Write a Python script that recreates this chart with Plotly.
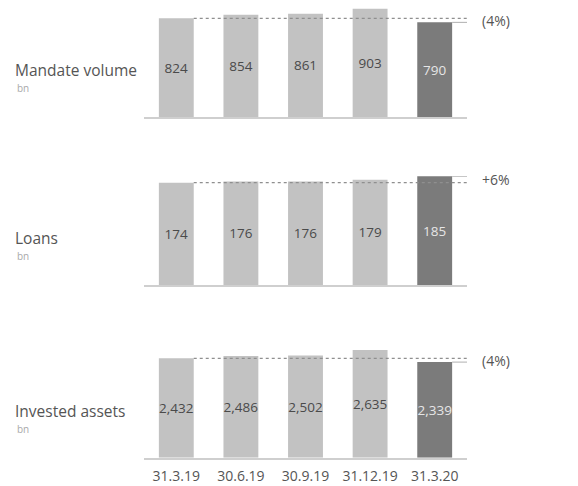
import plotly.graph_objects as go

dates = ["31.3.19", "30.6.19", "30.9.19", "31.12.19", "31.3.20"]
mandate_volume = [824, 854, 861, 903, 790]
loans = [174, 176, 176, 179, 185]
invested_assets = [2432, 2486, 2502, 2635, 2339]
panel_titles = ["Mandate volume", "Loans", "Invested assets"]
panel_units = ["bn", "bn", "bn"]
changes = ["(4%)", "+6%", "(4%)"]

series = [mandate_volume, loans, invested_assets]

OFF = 8  # page body margin
W, H = 578, 486
baselines_px = [117, 285, 457.7]
first_bar_px = [98.7, 102.3, 99.4]  # pixel height of the first bar
PANEL_H = 109


def py(px):
    return min(1.0, (H - (px - OFF)) / H)


def pxx(px):
    return (px - OFF) / W


domains = [(py(b), py(b - PANEL_H)) for b in baselines_px]
ranges = [s[0] * PANEL_H / h for s, h in zip(series, first_bar_px)]
xdom = [pxx(144), pxx(467)]

LIGHT = "#c2c2c2"
DARK = "#7b7b7b"
FONT = "Open Sans"
BW = 0.54

fig = go.Figure()
for i, vals in enumerate(series):
    n = i + 1
    xa = "x" if n == 1 else f"x{n}"
    ya = "y" if n == 1 else f"y{n}"
    colors = [LIGHT] * (len(vals) - 1) + [DARK]
    tcolors = ["#4a4a4a"] * (len(vals) - 1) + ["#e6e6e6"]
    fig.add_trace(go.Bar(
        x=dates, y=vals, xaxis=xa, yaxis=ya,
        marker=dict(color=colors, line=dict(width=0)),
        width=BW,
        text=[f"{v:,}" for v in vals],
        textposition="inside", insidetextanchor="middle",
        constraintext="none",
        textfont=dict(family=FONT, size=13.5, color=tcolors),
        textangle=0, showlegend=False, hoverinfo="skip", cliponaxis=False,
    ))
    xkey = "xaxis" if n == 1 else f"xaxis{n}"
    ykey = "yaxis" if n == 1 else f"yaxis{n}"
    fig.update_layout(**{
        xkey: dict(domain=xdom, anchor=ya, range=[-0.5, 4.5],
                   showline=True, linecolor="#cfcfcf", linewidth=2,
                   showgrid=False, zeroline=False, ticks="",
                   showticklabels=(n == 3), ticklabelstandoff=4,
                   tickfont=dict(family=FONT, size=14, color="#555555")),
        ykey: dict(domain=list(domains[i]), anchor=xa, range=[0, ranges[i]],
                   visible=False, showgrid=False, zeroline=False),
    })
    first, last = vals[0], vals[-1]
    fig.add_shape(type="line", xref=xa, yref=ya, x0=BW / 2, x1=4.5,
                  y0=first, y1=first,
                  line=dict(color="#8f8f8f", width=1.2, dash="dot"))
    fig.add_shape(type="line", xref=xa, yref=ya, x0=4 + BW / 2, x1=4.55,
                  y0=last, y1=last, line=dict(color="#b0b0b0", width=1))
    fig.add_shape(type="line", xref=xa, yref=ya, x0=4.55, x1=4.55,
                  y0=min(first, last), y1=max(first, last),
                  line=dict(color="#b0b0b0", width=1))
    ymid = (first + last) / 2
    fig.add_annotation(xref=f"{xa} domain", yref=ya, x=1.04, y=ymid,
                       text=changes[i], showarrow=False, xanchor="left",
                       yanchor="middle",
                       font=dict(family=FONT, size=14, color="#555555"))
    b = baselines_px[i]
    fig.add_annotation(xref="paper", yref="paper", x=pxx(13), y=py(b - 47),
                       text=panel_titles[i], showarrow=False, xanchor="left",
                       yanchor="middle",
                       font=dict(family=FONT, size=15.5, color="#555555"))
    fig.add_annotation(xref="paper", yref="paper", x=pxx(15), y=py(b - 29),
                       text=panel_units[i], showarrow=False, xanchor="left",
                       yanchor="middle",
                       font=dict(family=FONT, size=10, color="#aaaaaa"))

fig.update_layout(width=W, height=H, margin=dict(l=0, r=0, t=0, b=0),
                  plot_bgcolor="white", paper_bgcolor="white",
                  bargap=0.45)
fig.write_html("out.html")
